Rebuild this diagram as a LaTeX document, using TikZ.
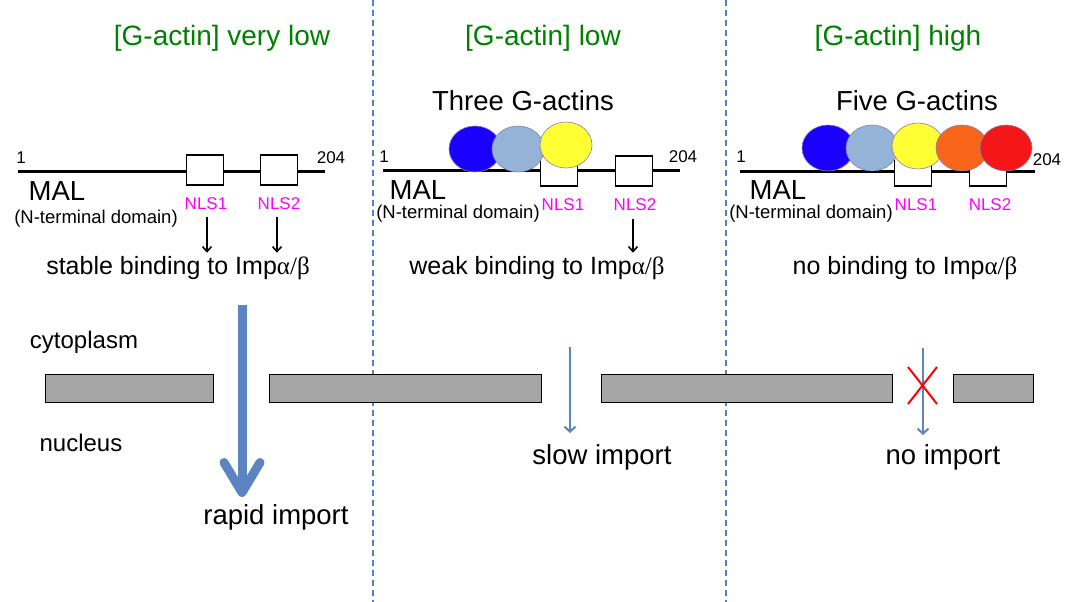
\documentclass[tikz,border=0pt]{standalone}
\usepackage{fontspec}
\setmainfont{Liberation Sans}
\newfontfamily\greekfont{Liberation Serif}
\usetikzlibrary{arrows.meta,shapes.geometric}
\definecolor{titlegreen}{RGB}{0,128,0}
\definecolor{divblue}{RGB}{79,129,189}
\definecolor{arrblue}{RGB}{91,132,192}
\definecolor{barfill}{RGB}{166,166,166}
\definecolor{nlspink}{RGB}{255,0,255}
\definecolor{actinA}{RGB}{26,0,255}
\definecolor{actinB}{RGB}{149,179,215}
\definecolor{actinC}{RGB}{255,255,51}
\definecolor{actinD}{RGB}{249,102,27}
\definecolor{actinE}{RGB}{245,23,23}
\newcommand{\fs}[1]{\fontsize{#1}{#1}\selectfont}
\newcommand{\imp}{Imp{\greekfont α/β}}

\begin{document}
\begin{tikzpicture}[x=1pt,y=-1pt,
    title/.style={text=titlegreen,font=\fs{28}},
    big/.style={font=\fs{27.5}},
    mal/.style={font=\fs{27.5},inner sep=0pt},
    mid/.style={font=\fs{25}},
    num/.style={font=\fs{17}},
    nls/.style={text=nlspink,font=\fs{17},inner sep=0.5pt},
    dom/.style={font=\fs{18.5},inner sep=0.5pt},
    nlsbox/.style={draw,fill=white,line width=1.6pt,minimum width=37pt,minimum height=30pt,inner sep=0pt},
    actin/.style={ellipse,draw=black!60!blue!50,line width=0.6pt,minimum width=52pt,minimum height=46pt,inner sep=0pt},
    bar/.style={draw,fill=barfill,line width=1pt,minimum height=28pt,inner sep=0pt},
    binding/.style={-{Straight Barb[length=5pt,width=9pt]},line width=1.6pt}]
  \useasboundingbox (0,0) rectangle (1068,602);
  % dividers
  \draw[divblue,line width=1.5pt,dash pattern=on 6pt off 4pt] (373,0) -- (373,602);
  \draw[divblue,line width=1.5pt,dash pattern=on 6pt off 4pt] (726,0) -- (726,602);
  \node[title] (tA) at (222,38) {[G-actin] very low};
  \node[title] (tB) at (543,38) {[G-actin] low};
  \node[title] (tC) at (898,38) {[G-actin] high};

  % panel 1
  \draw[line width=3pt] (18,171) -- (325,171);
  \node[nlsbox] (boxA1) at (205,170) {};
  \node[nlsbox] (boxA2) at (279,170) {};
  \node[num] at (21,158) {1};
  \node[num] at (331,158) {204};
  \node[mal] (malA) at (57,191) {MAL};
  \node[dom] (domA) at (96,219) {(N-terminal domain)};
  \node[nls] (nlsA1) at (206,204) {NLS1};
  \node[nls] (nlsA2) at (279,204) {NLS2};
  \node[mid] (bindA) at (178,268) {stable binding to \imp};
  \draw[binding] (nlsA1.south) ++(1,6) coordinate (a1) -- (a1 |- bindA.north);
  \draw[binding] (nlsA2.south) ++(-2,6) coordinate (a2) -- (a2 |- bindA.north);

  % panel 2
  \draw[line width=3pt] (383,170) -- (680,170);
  \node[nlsbox] (boxB1) at (559,171) {};
  \node[nlsbox] (boxB2) at (634,171) {};
  \node[actin,fill=actinA] (gB1) at (475,149) {};
  \node[actin,fill=actinB] (gB2) at (518,149) {};
  \node[actin,fill=actinC] (gB3) at (566,145) {};
  \node[big] (threeB) at (523,101) {Three G-actins};
  \node[num] at (384,157) {1};
  \node[num] at (683,157) {204};
  \node[mal] (malB) at (418,190) {MAL};
  \node[dom] (domB) at (458,214) {(N-terminal domain)};
  \node[nls] (nlsB1) at (563,205) {NLS1};
  \node[nls] (nlsB2) at (635,205) {NLS2};
  \node[mid] (bindB) at (537,268) {weak binding to \imp};
  \draw[binding] (nlsB2.south) ++(-2,7) coordinate (b2) -- (b2 |- bindB.north);

  % panel 3
  \draw[line width=3pt] (740,171) -- (1035,171);
  \node[nlsbox] (boxC1) at (913,171) {};
  \node[nlsbox] (boxC2) at (988,171) {};
  \node[actin,fill=actinA] (gC1) at (828,148) {};
  \node[actin,fill=actinB] (gC2) at (872,148) {};
  \node[actin,fill=actinC] (gC3) at (918,146) {};
  \node[actin,fill=actinD] (gC4) at (962,148) {};
  \node[actin,fill=actinE] (gC5) at (1006,148) {};
  \node[big] (fiveC) at (917,101) {Five G-actins};
  \node[num] at (741,157) {1};
  \node[num] at (1047,160) {204};
  \node[mal] (malC) at (778,190) {MAL};
  \node[dom] (domC) at (811,214) {(N-terminal domain)};
  \node[nls] (nlsC1) at (916,205) {NLS1};
  \node[nls] (nlsC2) at (990,205) {NLS2};
  \node[mid] (bindC) at (905,268) {no binding to \imp};

  % nuclear envelope
  \node[font=\fs{24}] (cyto) at (84,342) {cytoplasm};
  \node[font=\fs{24}] (nuc) at (81,443) {nucleus};
  \node[bar,minimum width=168pt] (barA) at (129,388) {};
  \node[bar,minimum width=272pt] (barB) at (405,388) {};
  \node[bar,minimum width=291pt] (barC) at (746.5,388) {};
  \node[bar,minimum width=80pt] (barD) at (993,388) {};

  % import
  \node[big] (rapid) at (276,517) {rapid import};
  \node[big] (slow) at (602,457) {slow import};
  \node[big] (none) at (943,457) {no import};
  \coordinate (r0) at (242,305);
  \coordinate (r1) at (242,497);
  \draw[arrblue,line width=9pt,-{Straight Barb[length=30pt,width=36pt,round]}]
    (r0) -- (r1);
  \coordinate (s0) at (570,347);
  \coordinate (s1) at (570,433);
  \draw[arrblue,line width=2pt,-{Straight Barb[length=5pt,width=11pt]}] (s0) -- (s1);
  \coordinate (n0) at (923,348);
  \coordinate (n1) at (923,435);
  \draw[arrblue,line width=2pt,-{Straight Barb[length=5pt,width=11pt]}] (n0) -- (n1);
  \draw[red,line width=2pt] (908,367) -- (937,404) (937,367) -- (908,404);
\end{tikzpicture}
\end{document}
